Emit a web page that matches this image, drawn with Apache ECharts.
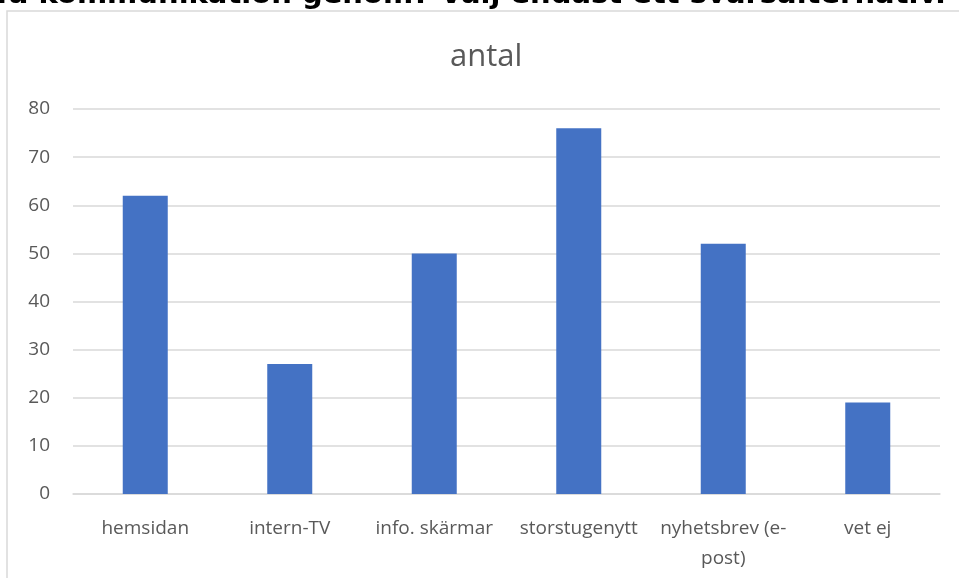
<!DOCTYPE html>
<html>
<head>
<meta charset="utf-8">
<script src="https://cdn.jsdelivr.net/npm/echarts@6/dist/echarts.min.js"></script>
<style>
  html, body { margin: 0; padding: 0; background: #fff; }
  #main { width: 959px; height: 578px; }
</style>
</head>
<body>
<div id="main"></div>
<script>
// data
var categories = ['hemsidan', 'intern-TV', 'info. skärmar', 'storstugenytt', 'nyhetsbrev (e-post)', 'vet ej'];
var antal = [62, 27, 50, 76, 52, 19];
var questionText = 'Hur vill du få kommunikation genom? Välj endast ett svarsalternativ.';

var myChart = echarts.init(document.getElementById('main'));
myChart.setOption({
  animation: false,
  textStyle: { fontFamily: 'Open Sans' },
  title: {
    text: 'antal',
    left: 445,
    top: 37,
    textStyle: { color: '#595959', fontSize: 31, fontWeight: 'normal' }
  },
  // frame + the cut-off question heading above it
  graphic: [
    {
      type: 'rect',
      shape: { x: 7, y: 11, width: 1000, height: 1000 },
      style: { fill: 'none', stroke: '#d9d9d9', lineWidth: 1.5 },
      silent: true
    },
    {
      type: 'text',
      x: 946,
      y: 10,
      style: {
        text: questionText,
        font: '900 29px "DejaVu Sans"',
        fill: '#000',
        align: 'right',
        verticalAlign: 'bottom'
      },
      silent: true
    }
  ],
  grid: { left: 73, right: 19, top: 109, bottom: 84 },
  xAxis: {
    type: 'category',
    data: categories,
    axisLine: { lineStyle: { color: '#d9d9d9', width: 1.5 } },
    axisTick: { show: false },
    axisLabel: {
      color: '#595959',
      fontSize: 19,
      margin: 20,
      lineHeight: 30,
      interval: 0,
      formatter: function (v) { return v.replace('(e-post)', '(e-\npost)'); }
    }
  },
  yAxis: {
    type: 'value',
    min: 0,
    max: 80,
    interval: 10,
    axisLine: { show: false },
    axisTick: { show: false },
    splitLine: { lineStyle: { color: '#d9d9d9', width: 1.5 } },
    axisLabel: { color: '#595959', fontSize: 19, margin: 23 }
  },
  series: [
    {
      name: 'antal',
      type: 'bar',
      data: antal,
      barWidth: 45,
      itemStyle: { color: '#4472C4' }
    }
  ]
});
</script>
</body>
</html>
